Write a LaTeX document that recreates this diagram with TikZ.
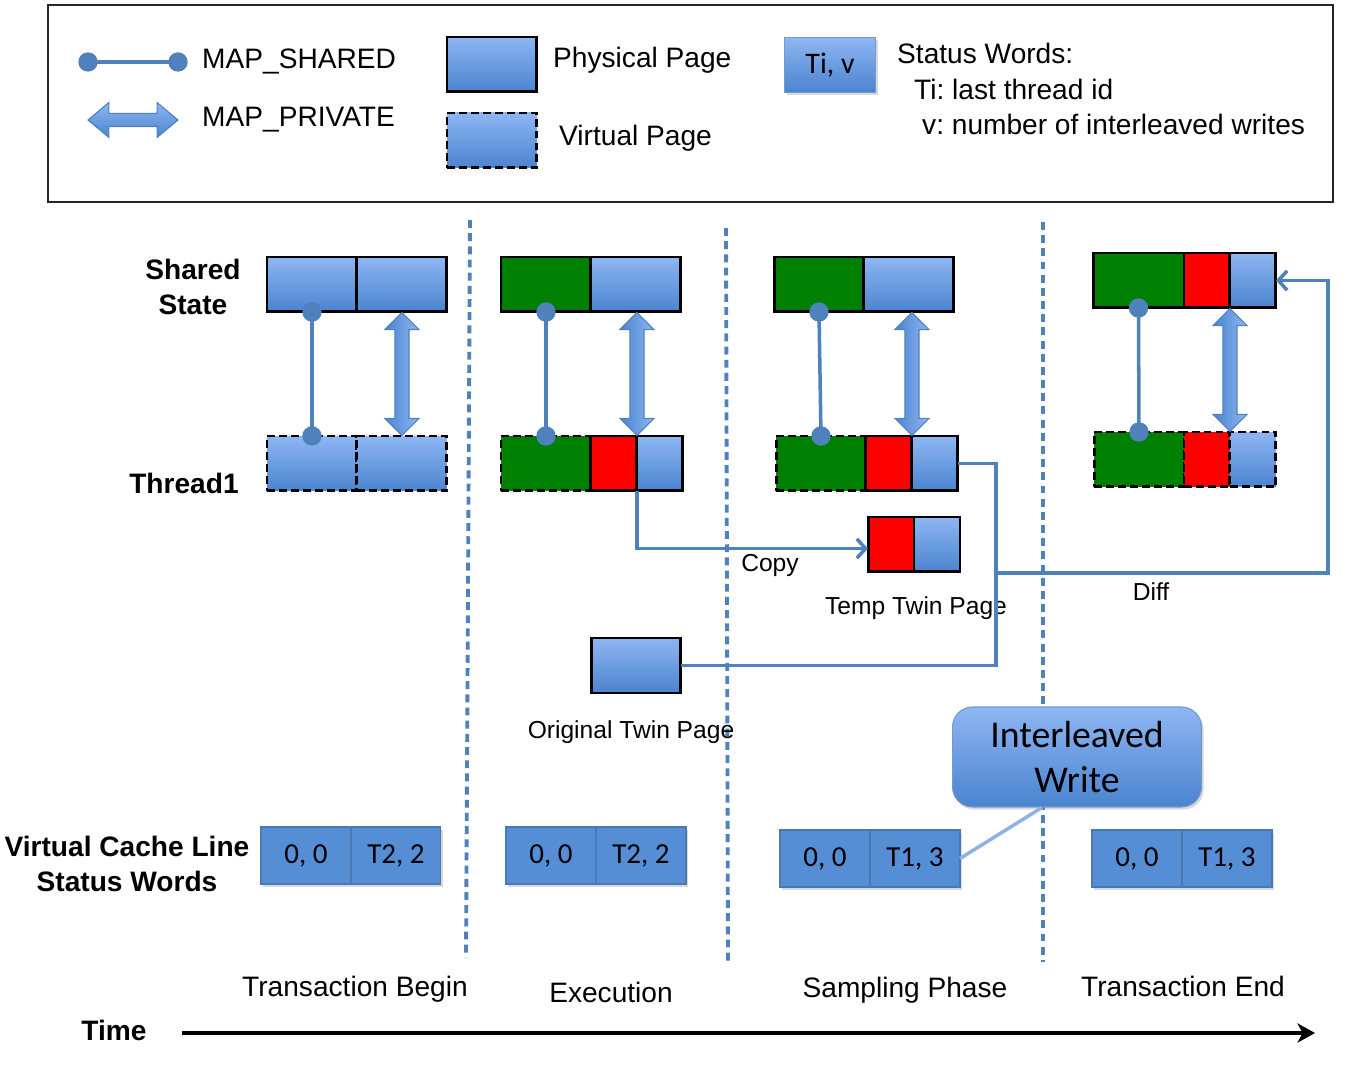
\documentclass[tikz,border=0pt]{standalone}
\usepackage{fontspec}
\setmainfont{Liberation Sans}
\newfontfamily\calib{Carlito}
\usepackage{tikz}
\usetikzlibrary{positioning,calc,arrows.meta,shapes.arrows,shadows}
\frenchspacing

\definecolor{pagetop}{HTML}{8EB6F3}
\definecolor{pagebot}{HTML}{4A84CF}
\definecolor{linkblue}{HTML}{4F81BD}
\definecolor{statblue}{HTML}{558ED5}
\definecolor{wordgreen}{HTML}{008000}
\definecolor{callout}{HTML}{8DB3E2}

\tikzset{
  cell/.style={draw=black, line width=1.7pt, minimum height=1.1cm, inner sep=0pt, outer sep=0pt},
  full/.style={minimum width=1.8cm},
  half/.style={minimum width=0.92cm},
  bluecell/.style={top color=pagetop, bottom color=pagebot},
  greencell/.style={fill=wordgreen},
  redcell/.style={fill=red},
  virtual/.style={dash pattern=on 4.5pt off 2.3pt},
  status/.style={fill=statblue, draw=statblue!85!black, line width=0.6pt, minimum width=1.8cm,
    minimum height=1.14cm, inner sep=0pt, outer sep=0pt, font=\calib\fontsize{16.5}{20}\selectfont,
    drop shadow={shadow xshift=1.2pt, shadow yshift=-1.5pt, opacity=0.3}},
  note/.style={font=\fontsize{16}{19}\selectfont},
  small note/.style={font=\fontsize{14}{17}\selectfont},
  row title/.style={font=\bfseries\fontsize{16}{20}\selectfont, align=center},
  shared map/.style={linkblue, line width=2pt, shorten <=-5.5pt, shorten >=-5.5pt,
    {Circle[length=11pt]}-{Circle[length=11pt]}},
  map arrow/.style={double arrow, inner xsep=0pt, draw=linkblue, line width=0.6pt},
  private map/.style={map arrow, double arrow tip angle=90, double arrow head extend=0.2cm,
    inner ysep=0.13cm, minimum height=2.46cm, rotate=90, left color=pagebot, right color=pagetop},
  flow/.style={linkblue, line width=2pt},
  phase line/.style={linkblue, line width=2.2pt, dash pattern=on 4.5pt off 3pt},
}

\begin{document}
\begin{tikzpicture}[x=0.02cm, y=-0.02cm]
    \useasboundingbox (0,0) rectangle (1359,1081);

    % The legend on top
    \draw[black!85, line width=1pt] (48,5) rectangle (1333,202);
    \coordinate (key dot a) at (88,62);
    \coordinate (key dot b) at (178,62);
    \draw[shared map] (key dot a) -- (key dot b);
    \node[note, anchor=west] (key shared) at (196,61) {MAP\_SHARED};
    \node[map arrow, double arrow tip angle=80, double arrow head extend=0.22cm, inner ysep=0.12cm,
      minimum height=1.8cm, top color=pagetop, bottom color=pagebot] (key private) at (133,120) {};
    \node[note, anchor=west] (key private text) at (196,120) {MAP\_PRIVATE};
    \node[cell, full, bluecell, anchor=north west] (key phys) at (447,37) {};
    \node[note, anchor=west] (key phys text) at (547,60) {Physical Page};
    \node[cell, full, bluecell, virtual, anchor=north west] (key virt) at (447,113) {};
    \node[note, anchor=west] (key virt text) at (553,138) {Virtual Page};
    \node[top color=pagetop, bottom color=pagebot, draw=linkblue!80, line width=0.6pt,
      minimum width=1.82cm, minimum height=1.1cm, anchor=north west,
      font=\calib\fontsize{17}{20}\selectfont,
      drop shadow={shadow xshift=1.2pt, shadow yshift=-1.5pt, opacity=0.3}] (key word) at (784,37) {Ti, v};
    \node[note, anchor=west] (key word a) at (891,53) {Status Words:};
    \node[note, anchor=west] (key word b) at (908,89) {Ti: last thread id};
    \node[note, anchor=west] (key word c) at (916,124) {v: number of interleaved writes};

    % The phase borders
    \draw[phase line] (470,220) -- (466,958);
    \draw[phase line] (726,228) -- (728,965);
    \draw[phase line] (1043,222) -- (1043,962);

    % Row titles
    \node[row title] (shared title) at (193,287) {Shared\\State};
    \node[row title] (thread title) at (184,483) {Thread1};
    \node[row title] (status title) at (127,864) {Virtual Cache Line\\Status Words};

    % Transaction begin
    \node[cell, full, bluecell, anchor=north west] (shared 1a) at (267,257) {};
    \node[cell, full, bluecell, right=0pt of shared 1a] (shared 1b) {};
    \node[cell, full, bluecell, virtual, anchor=north west] (thread 1a) at (267,436) {};
    \node[cell, full, bluecell, virtual, right=0pt of thread 1a] (thread 1b) {};
    \draw[shared map] (shared 1a.south) -- (thread 1a.north);
    \node[private map] (private 1) at ($(shared 1b.south)!0.5!(thread 1b.north)$) {};

    % Execution
    \node[cell, full, greencell, anchor=north west] (shared 2a) at (501,257) {};
    \node[cell, full, bluecell, right=0pt of shared 2a] (shared 2b) {};
    \node[cell, full, greencell, virtual, anchor=north west] (thread 2a) at (501,436) {};
    \node[cell, half, redcell, right=0pt of thread 2a] (thread 2b) {};
    \node[cell, half, bluecell, right=0pt of thread 2b] (thread 2c) {};
    \draw[shared map] (shared 2a.south) -- (thread 2a.north);
    \node[private map] (private 2) at ($(thread 2c.north west |- shared 2b.south)!0.5!(thread 2c.north west)$) {};
    \node[cell, full, bluecell, anchor=north west] (orig twin) at (591,638) {};
    \node[small note] (orig twin text) at (631,732) {Original Twin Page};

    % Sampling phase
    \node[cell, full, greencell, anchor=north west] (shared 3a) at (774,257) {};
    \node[cell, full, bluecell, right=0pt of shared 3a] (shared 3b) {};
    \node[cell, full, greencell, virtual, anchor=north west] (thread 3a) at (776,436) {};
    \node[cell, half, redcell, right=0pt of thread 3a] (thread 3b) {};
    \node[cell, half, bluecell, right=0pt of thread 3b] (thread 3c) {};
    \draw[shared map] (shared 3a.south) -- (thread 3a.north);
    \node[private map] (private 3) at ($(thread 3c.north west |- shared 3b.south)!0.5!(thread 3c.north west)$) {};
    \node[cell, half, redcell, anchor=north west] (temp twin a) at (868,517) {};
    \node[cell, half, bluecell, right=0pt of temp twin a] (temp twin b) {};
    \node[small note] (temp twin text) at (916,608) {Temp Twin Page};

    % Transaction end
    \node[cell, minimum width=1.82cm, greencell, anchor=north west] (shared 4a) at (1093,253) {};
    \node[cell, half, redcell, right=0pt of shared 4a] (shared 4b) {};
    \node[cell, half, bluecell, right=0pt of shared 4b] (shared 4c) {};
    \node[cell, full, greencell, virtual, anchor=north west] (thread 4a) at (1094,432) {};
    \node[cell, half, redcell, virtual, right=0pt of thread 4a] (thread 4b) {};
    \node[cell, half, bluecell, virtual, right=0pt of thread 4b] (thread 4c) {};
    \draw[shared map] (shared 4a.south) -- (thread 4a.north);
    \node[private map] (private 4) at ($(thread 4c.north west |- shared 4c.south)!0.5!(thread 4c.north west)$) {};

    % Copy and diff
    \draw[flow, -{Straight Barb[length=5pt, width=11pt]}] (thread 2c.south west) |- ($(temp twin a.west)+(0,4)$);
    \node[small note] (copy text) at (770,565) {Copy};
    \coordinate (diff split) at (996,573);
    \coordinate (diff corner) at (1328,573);
    \draw[flow] (orig twin.east) -| (diff split) |- (thread 3c.east);
    \draw[flow, -{Straight Barb[length=5pt, width=11pt]}] (diff split) -- (diff corner) |- (shared 4c.east);
    \node[small note] (diff text) at (1151,592) {Diff};

    % Status words
    \node[status, anchor=north west] (word 1a) at (261,827) {0, 0};
    \node[status, right=0pt of word 1a] (word 1b) {T2, 2};
    \node[status, anchor=north west] (word 2a) at (506,827) {0, 0};
    \node[status, right=0pt of word 2a] (word 2b) {T2, 2};
    \node[status, anchor=north west] (word 3a) at (780,830) {0, 0};
    \node[status, right=0pt of word 3a] (word 3b) {T1, 3};
    \node[status, anchor=north west] (word 4a) at (1092,830) {0, 0};
    \node[status, right=0pt of word 4a] (word 4b) {T1, 3};
    \node[top color=pagetop, bottom color=pagebot, draw=linkblue!80, line width=0.6pt,
      rounded corners=0.4cm, minimum width=4.98cm, minimum height=2cm, align=center,
      font=\calib\fontsize{21.5}{26}\selectfont,
      drop shadow={shadow xshift=1.2pt, shadow yshift=-1.5pt, opacity=0.3}] (inter write) at (1077,757) {Interleaved\\Write};
    \draw[callout, line width=2pt] ($(inter write.south west)!0.36!(inter write.south east)$) -- (word 3b.east);

    % Phases and time
    \node[note] (phase 1) at (355,989) {Transaction Begin};
    \node[note] (phase 2) at (611,992) {Execution};
    \node[note] (phase 3) at (905,990) {Sampling Phase};
    \node[note] (phase 4) at (1183,986) {Transaction End};
    \node[row title] (time) at (114,1030) {Time};
    \coordinate (time start) at (182,1033);
    \coordinate (time end) at (1315,1033);
    \draw[line width=2.3pt, -{Stealth[length=10pt, width=11pt, inset=3pt]}] (time start) -- (time end);
\end{tikzpicture}
\end{document}
